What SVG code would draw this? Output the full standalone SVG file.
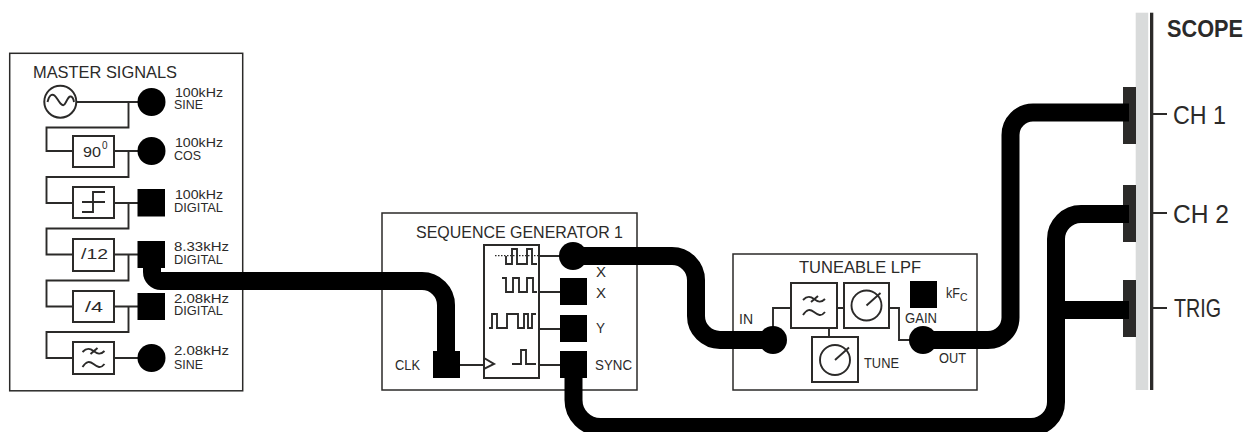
<svg xmlns="http://www.w3.org/2000/svg" width="1250" height="432" viewBox="0 0 1250 432">
<style>
text{font-family:"Liberation Sans",Arial,sans-serif;fill:#2b2a29}
.t{font-size:17px}
.s{font-size:14px}
.d{font-size:12.500px}
.m{font-size:15px}
.b{fill:#fff;stroke:#2b2a29;stroke-width:2}
.o{fill:#fff;stroke:#2b2a29;stroke-width:1.500}
.l{fill:none;stroke:#2b2a29;stroke-width:1.900}
.p{fill:#000}
.w{fill:none;stroke:#000;stroke-width:18}
.k{fill:#2b2a29}
</style>
<defs>
<g id="filt" class="l">
<path d="M-11,-6C-7,-10 -4,-10 0,-7S7,-3 11,-7"/>
<path d="M-3,-4L4,-10"/>
<path d="M-11,9C-7,3 -4,3 0,6S7,11 11,6"/>
</g>
<g id="knob" class="l">
<circle r="15"/>
<path d="M0,0L14,-12.500"/>
</g>
</defs>

<g id="master-signals">
<rect class="o" x="9.700" y="53.300" width="233" height="337.500"/>
<text class="t" x="33" y="78" textLength="144" lengthAdjust="spacingAndGlyphs">MASTER SIGNALS</text>
<path class="l" d="M76,102H140M128.500,102V127.500H46.500V151H73M114,151H140M128.500,151V177H46.500V203H73M114,203H140M128.500,203V228.500H46.500V254.500H73M114,254.500H140M128.500,254.500V280.500H46.500V306.500H73M114,306.500H140M128.500,306.500V332H46.500V358H73M114,358H140"/>
<circle class="b" cx="60.300" cy="101.700" r="16"/>
<path class="l" d="M47.500,102C49,95 52,93.500 54.500,95.500S58,101 60.500,103.500 64,106 66,102 69,96 71,96.500 73.500,99 74,102"/>
<rect class="b" x="73" y="136" width="41" height="31"/>
<text class="m" x="83" y="157" textLength="18" lengthAdjust="spacingAndGlyphs">90</text>
<text x="102" y="149" font-size="10">0</text>
<rect class="b" x="73" y="187" width="41" height="31"/>
<path class="l" d="M82,202H105M82,212H93V192H105"/>
<rect class="b" x="73" y="239" width="41" height="32"/>
<text class="m" x="81" y="259" textLength="27" lengthAdjust="spacingAndGlyphs">/12</text>
<rect class="b" x="73" y="291" width="41" height="31"/>
<text class="m" x="85" y="312" textLength="18" lengthAdjust="spacingAndGlyphs">/4</text>
<rect class="b" x="73" y="342" width="41" height="32"/>
<use href="#filt" x="93.500" y="358"/>
<circle class="p" cx="151.500" cy="102" r="14"/>
<circle class="p" cx="151.500" cy="151" r="14"/>
<rect class="p" x="137.500" y="189" width="27.500" height="27.500"/>
<rect class="p" x="137.500" y="241" width="27.500" height="27"/>
<rect class="p" x="137.500" y="293" width="27.500" height="27"/>
<circle class="p" cx="151.500" cy="358" r="14"/>
<text class="d" x="175" y="97" textLength="48" lengthAdjust="spacingAndGlyphs">100kHz</text>
<text class="d" x="174" y="109" textLength="29" lengthAdjust="spacingAndGlyphs">SINE</text>
<text class="d" x="175" y="147" textLength="48" lengthAdjust="spacingAndGlyphs">100kHz</text>
<text class="d" x="174" y="160" textLength="27" lengthAdjust="spacingAndGlyphs">COS</text>
<text class="d" x="175" y="199" textLength="48" lengthAdjust="spacingAndGlyphs">100kHz</text>
<text class="d" x="174" y="212" textLength="49" lengthAdjust="spacingAndGlyphs">DIGITAL</text>
<text class="d" x="174" y="251" textLength="55" lengthAdjust="spacingAndGlyphs">8.33kHz</text>
<text class="d" x="174" y="264" textLength="49" lengthAdjust="spacingAndGlyphs">DIGITAL</text>
<text class="d" x="174" y="303" textLength="55" lengthAdjust="spacingAndGlyphs">2.08kHz</text>
<text class="d" x="174" y="315" textLength="49" lengthAdjust="spacingAndGlyphs">DIGITAL</text>
<text class="d" x="174" y="355" textLength="55" lengthAdjust="spacingAndGlyphs">2.08kHz</text>
<text class="d" x="174" y="369" textLength="29" lengthAdjust="spacingAndGlyphs">SINE</text>
</g>

<g id="sequence-generator">
<rect class="o" x="382" y="213" width="255" height="177"/>
<text class="t" x="416" y="238" textLength="207" lengthAdjust="spacingAndGlyphs">SEQUENCE GENERATOR 1</text>
<path class="l" d="M539,256H560M539,292H560M539,329H560M539,365H560M460,365H484"/>
<rect class="b" x="484" y="245" width="55" height="133"/>
<path d="M495,255.700H538" fill="none" stroke="#2b2a29" stroke-width="1.200" stroke-dasharray="1.500 1.500"/>
<path class="l" d="M506,256V264H512V249H517V264H527V249H532V264H537"/>
<path class="l" d="M502,278H506V292H513V278H519V292H527V278H533V292H537"/>
<path class="l" d="M489,328H492V314H497V328H507V314H518V328H524V314H528V328H532V314H536"/>
<path class="l" d="M512,364H521V350H526V364H536"/>
<path class="b" d="M484,358L494,364 484,369Z"/>
<rect class="p" x="433" y="351" width="27" height="27"/>
<circle class="p" cx="573" cy="256" r="14"/>
<rect class="p" x="560" y="278" width="27" height="27"/>
<rect class="p" x="560" y="315" width="27" height="27"/>
<rect class="p" x="560" y="351" width="27" height="27"/>
<text class="s" x="596" y="277" textLength="10" lengthAdjust="spacingAndGlyphs">X</text>
<text class="s" x="596" y="298" textLength="10" lengthAdjust="spacingAndGlyphs">X</text>
<text class="s" x="596" y="333" textLength="9" lengthAdjust="spacingAndGlyphs">Y</text>
<text class="s" x="595" y="370" textLength="37" lengthAdjust="spacingAndGlyphs">SYNC</text>
<text class="s" x="395" y="370" textLength="25" lengthAdjust="spacingAndGlyphs">CLK</text>
</g>

<g id="tuneable-lpf">
<rect class="o" x="733" y="254" width="244" height="136"/>
<text class="t" x="799" y="273" textLength="122" lengthAdjust="spacingAndGlyphs">TUNEABLE LPF</text>
<path class="l" d="M773,340V308H791M837,308H844M889,308H899V340H910M829,328V337"/>
<rect class="b" x="791" y="283" width="46" height="45"/>
<use href="#filt" x="814" y="306"/>
<rect class="b" x="844" y="283" width="45" height="45"/>
<use href="#knob" x="866.500" y="305.500"/>
<rect class="b" x="812" y="337" width="46" height="45"/>
<use href="#knob" x="835" y="360"/>
<rect class="p" x="910" y="281" width="27" height="27"/>
<circle class="p" cx="773" cy="340" r="14"/>
<circle class="p" cx="923" cy="340" r="14"/>
<text class="s" x="739" y="324" textLength="14" lengthAdjust="spacingAndGlyphs">IN</text>
<text class="s" x="905" y="323" textLength="32" lengthAdjust="spacingAndGlyphs">GAIN</text>
<text class="s" x="864" y="368" textLength="35" lengthAdjust="spacingAndGlyphs">TUNE</text>
<text class="s" x="939" y="363" textLength="27" lengthAdjust="spacingAndGlyphs">OUT</text>
<text class="s" x="946" y="298" textLength="14" lengthAdjust="spacingAndGlyphs">kF</text>
<text x="960" y="301" font-size="10.500">C</text>
</g>

<g id="scope">
<rect x="1135.700" y="12.700" width="12.500" height="377.300" fill="#d9dbdb"/>
<rect class="k" x="1150" y="12.700" width="3.300" height="377.300"/>
<rect class="k" x="1123" y="87" width="13" height="57"/>
<rect class="k" x="1123" y="185" width="13" height="57"/>
<rect class="k" x="1123" y="280" width="13" height="57"/>
<path class="l" d="M1153,114H1167M1153,213H1167M1153,308H1167"/>
<text x="1167" y="37" font-size="23px" font-weight="bold" textLength="76" lengthAdjust="spacingAndGlyphs">SCOPE</text>
<text x="1173" y="124" font-size="25px" textLength="53" lengthAdjust="spacingAndGlyphs">CH 1</text>
<text x="1173" y="223" font-size="25px" textLength="56" lengthAdjust="spacingAndGlyphs">CH 2</text>
<text x="1174" y="317" font-size="25px" textLength="47" lengthAdjust="spacingAndGlyphs">TRIG</text>
</g>

<g id="connectors">
<path class="w" d="M152,255V272A9,9 0 0 0 161,281H422A24,24 0 0 1 446,305V360"/>
<path class="w" d="M573,256H672A24,24 0 0 1 696,280V316A24,24 0 0 0 720,340H773"/>
<path class="w" d="M923,340H988A22.500,22.500 0 0 0 1010.500,317.500V135A22.500,22.500 0 0 1 1033,112.500H1129"/>
<path class="w" d="M573.500,365V400A27,27 0 0 0 600.500,427H1031A25,25 0 0 0 1056,402V239A25,25 0 0 1 1081,214H1129"/>
<path class="w" d="M1056,310H1129"/>
</g>
</svg>
